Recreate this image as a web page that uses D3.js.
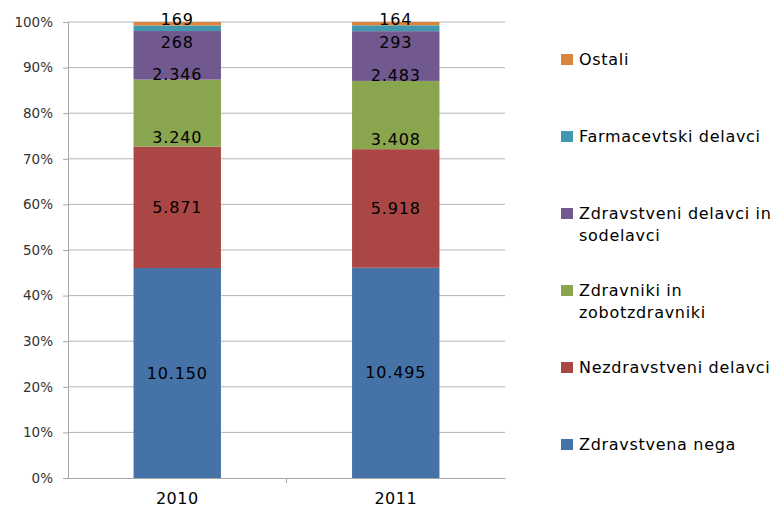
<!DOCTYPE html>
<html>
<head>
<meta charset="utf-8">
<script src="https://cdn.jsdelivr.net/npm/d3@7"></script>
<style>
  body { margin: 0; background: #fff; }
  text { font-family: "DejaVu Sans", sans-serif; fill: #000; }
</style>
</head>
<body>
<div id="chart"></div>
<script>
// Data
const years = ["2010", "2011"];
const seriesNames = [
  "Zdravstvena nega",
  "Nezdravstveni delavci",
  "Zdravniki in zobotzdravniki",
  "Zdravstveni delavci in sodelavci",
  "Farmacevtski delavci",
  "Ostali"
];
const values2010 = [10150, 5871, 3240, 2346, 268, 169];
const values2011 = [10495, 5918, 3408, 2483, 293, 164];
const yTicks = [0, 0.1, 0.2, 0.3, 0.4, 0.5, 0.6, 0.7, 0.8, 0.9, 1];

// Style
const colors = ["#4572A7", "#AA4643", "#89A54E", "#71588F", "#4198AF", "#DB843D"];
const labelNudge = [0, 0, 24, 19, 14, -4]; // labels sit off-centre in the original
const width = 772, height = 508;
const margin = { top: 22, left: 68, right: 267, bottom: 30 };

const svg = d3.select("#chart").append("svg")
  .attr("width", width)
  .attr("height", height);

// build rows for stacking
const rows = years.map((y, i) => {
  const vals = i === 0 ? values2010 : values2011;
  const total = d3.sum(vals);
  const row = { year: y };
  seriesNames.forEach((s, j) => { row[s] = vals[j] / total; row[s + "_raw"] = vals[j]; });
  return row;
});

const stack = d3.stack().keys(seriesNames);
const stacked = stack(rows);

const x = d3.scaleBand()
  .domain(years)
  .range([margin.left, width - margin.right])
  .paddingInner(0.6)
  .paddingOuter(0.3);

const y = d3.scaleLinear()
  .domain([0, 1])
  .range([height - margin.bottom, margin.top]);

// gridlines
svg.append("g")
  .selectAll("line")
  .data(yTicks.slice(1))
  .join("line")
    .attr("x1", margin.left)
    .attr("x2", width - margin.right)
    .attr("y1", d => y(d))
    .attr("y2", d => y(d))
    .attr("stroke", "#b4b4b4")
    .attr("stroke-width", 1);

// y axis
const yAxis = svg.append("g")
  .attr("transform", `translate(${margin.left},0)`)
  .call(d3.axisLeft(y).tickValues(yTicks).tickFormat(d3.format(".0%")).tickSize(5).tickPadding(10));
yAxis.select(".domain").attr("stroke", "#a6a6a6");
yAxis.selectAll(".tick line").attr("stroke", "#a6a6a6");
yAxis.selectAll("text").style("font-size", "13.5px").style("fill", "#333");

// bars
const layers = svg.append("g")
  .selectAll("g")
  .data(stacked)
  .join("g")
    .attr("fill", (d, i) => colors[i]);

layers.selectAll("rect")
  .data(d => d)
  .join("rect")
    .attr("x", d => x(d.data.year))
    .attr("width", x.bandwidth())
    .attr("y", d => y(d[1]))
    .attr("height", d => y(d[0]) - y(d[1]));

// x axis
const xAxis = svg.append("g")
  .attr("transform", `translate(0,${y(0)})`)
  .call(d3.axisBottom(x).tickSize(0).tickPadding(15));
xAxis.select(".domain").attr("stroke", "#a6a6a6");
xAxis.selectAll("text").style("font-size", "16px").style("letter-spacing", "0.5px");
// tick between categories
svg.append("line")
  .attr("x1", (x("2010") + x.bandwidth() + x("2011")) / 2)
  .attr("x2", (x("2010") + x.bandwidth() + x("2011")) / 2)
  .attr("y1", y(0))
  .attr("y2", y(0) + 5)
  .attr("stroke", "#a6a6a6");

// data labels
const fmt = v => d3.format(",")(v).replace(/,/g, ".");
stacked.forEach((layer, i) => {
  svg.append("g")
    .selectAll("text")
    .data(layer)
    .join("text")
      .attr("x", d => x(d.data.year) + x.bandwidth() / 2)
      .attr("y", d => (y(d[0]) + y(d[1])) / 2 + labelNudge[i])
      .attr("text-anchor", "middle")
      .attr("dominant-baseline", "central")
      .style("font-size", "16px")
      .style("letter-spacing", "0.8px")
      .text(d => fmt(d.data[layer.key + "_raw"]));
});

// legend (top entry is the last series)
const legendX = 561, legendTop = 59, legendStep = 77, wrapWidth = 200;
const legend = svg.append("g")
  .selectAll("g")
  .data(seriesNames.slice().reverse())
  .join("g")
    .attr("transform", (d, i) => `translate(${legendX},${legendTop + i * legendStep})`);

legend.append("rect")
  .attr("x", 0)
  .attr("y", -5)
  .attr("width", 12)
  .attr("height", 11)
  .attr("fill", d => colors[seriesNames.indexOf(d)]);

legend.each(function(d) {
  const t = d3.select(this).append("text")
    .attr("x", 18)
    .attr("y", 0)
    .attr("dominant-baseline", "central")
    .style("font-size", "16px")
    .style("letter-spacing", "0.7px");
  const words = d.split(" ");
  let line = [];
  let tspan = t.append("tspan").attr("x", 18).attr("dy", 0);
  words.forEach(w => {
    line.push(w);
    tspan.text(line.join(" "));
    if (tspan.node().getComputedTextLength() > wrapWidth && line.length > 1) {
      line.pop();
      tspan.text(line.join(" "));
      line = [w];
      tspan = t.append("tspan").attr("x", 18).attr("dy", 22).text(w);
    }
  });
});
</script>
</body>
</html>
